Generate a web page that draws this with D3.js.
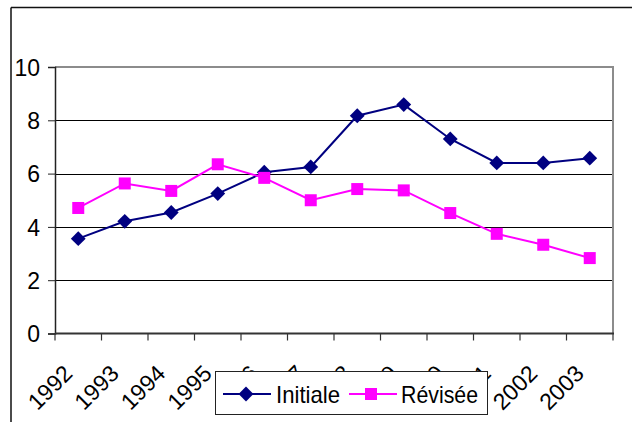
<!DOCTYPE html>
<html>
<head>
<meta charset="utf-8">
<script src="https://cdn.jsdelivr.net/npm/d3@7"></script>
<style>
  html, body { margin: 0; padding: 0; background: #fff; }
  svg { display: block; font-family: "Liberation Sans", Arial, sans-serif; }
</style>
</head>
<body>
<svg id="chart" width="637" height="422"></svg>
<script>
// Years on the category axis
const years = ["1992", "1993", "1994", "1995", "1996", "1997", "1998", "1999", "2000", "2001", "2002", "2003"];
// Initial estimates
const initiale = [3.56, 4.21, 4.54, 5.25, 6.05, 6.25, 8.17, 8.59, 7.30, 6.40, 6.40, 6.58];
// Revised estimates
const revisee = [4.71, 5.63, 5.35, 6.35, 5.84, 5.00, 5.42, 5.37, 4.52, 3.74, 3.33, 2.83];
// Value axis ticks
const yTicks = [0, 2, 4, 6, 8, 10];
const seriesNames = ["Initiale", "Révisée"];

const svg = d3.select("#chart");
const plot = { left: 55, right: 613, top: 67, bottom: 333.5 };
const FONT = "'Liberation Sans', Arial, sans-serif";

// Outer frame (top and left edges)
svg.append("path")
  .attr("d", "M11,7.5H632M11,7.5V422")
  .attr("fill", "none").attr("stroke", "#111").attr("stroke-width", 1.5);

const x = d3.scaleBand().domain(years).range([plot.left, plot.right]).paddingInner(0).paddingOuter(0);
const y = d3.scaleLinear().domain([0, 10]).range([plot.bottom, plot.top]);
const cx = d => x(d) + x.bandwidth() / 2;

// Horizontal gridlines
svg.append("g").selectAll("line").data(yTicks.filter(t => t > 0 && t < 10)).join("line")
  .attr("x1", plot.left).attr("x2", plot.right)
  .attr("y1", d => Math.round(y(d)) + 0.5).attr("y2", d => Math.round(y(d)) + 0.5)
  .attr("stroke", "#000").attr("stroke-width", 1);

// Plot border (top and right, grey)
svg.append("path")
  .attr("d", `M${plot.left},${y(10)}H${plot.right}V${plot.bottom}`)
  .attr("fill", "none").attr("stroke", "#8c8c8c").attr("stroke-width", 2);

// Y axis
const yAxis = d3.axisLeft(y).tickValues(yTicks).tickSize(7).tickPadding(8).tickFormat(d3.format("d"));
const gy = svg.append("g").attr("transform", `translate(${plot.left},0)`).call(yAxis)
  .attr("font-family", FONT).attr("font-size", 23);
gy.select(".domain").attr("stroke", "#222").attr("stroke-width", 1.5);
gy.selectAll(".tick line").attr("stroke", "#222");
gy.selectAll(".tick text").attr("fill", "#000").attr("dy", "0.36em");

// X axis with ticks between categories
const gx = svg.append("g").attr("transform", `translate(0,${plot.bottom})`)
  .attr("font-family", FONT).attr("font-size", 23);
gx.append("line").attr("x1", plot.left).attr("x2", plot.right + 1)
  .attr("stroke", "#333").attr("stroke-width", 2);
const bounds = years.map(d => x(d)).concat([plot.right]);
gx.selectAll("line.tk").data(bounds).join("line").attr("class", "tk")
  .attr("x1", d => d).attr("x2", d => d).attr("y1", 0).attr("y2", 7)
  .attr("stroke", "#333").attr("stroke-width", 1.2);
gx.selectAll("text").data(years).join("text")
  .attr("transform", d => `translate(${cx(d) - 4.5},${375 - plot.bottom}) rotate(-45)`)
  .attr("text-anchor", "end").attr("fill", "#000")
  .text(d => d);

// Lines and markers
const line = d3.line().x((d, i) => cx(years[i])).y(d => y(d));
const navy = "#000080", magenta = "#ff00ff";

svg.append("path").datum(initiale).attr("d", line)
  .attr("fill", "none").attr("stroke", navy).attr("stroke-width", 2);
svg.append("path").datum(revisee).attr("d", line)
  .attr("fill", "none").attr("stroke", magenta).attr("stroke-width", 2);

const diamond = d3.symbol().type(d3.symbolDiamond2).size(140);
svg.append("g").selectAll("path").data(initiale).join("path")
  .attr("transform", (d, i) => `translate(${cx(years[i])},${y(d)})`)
  .attr("d", diamond).attr("fill", navy);

svg.append("g").selectAll("rect").data(revisee).join("rect")
  .attr("x", (d, i) => cx(years[i]) - 6).attr("y", d => y(d) - 6)
  .attr("width", 12).attr("height", 12).attr("fill", magenta);

// Legend
const lg = svg.append("g").attr("font-family", FONT).attr("font-size", 24);
lg.append("rect").attr("x", 215.5).attr("y", 371.5).attr("width", 272).attr("height", 43)
  .attr("fill", "#fff").attr("stroke", "#222").attr("stroke-width", 1);
const ly = 394;
lg.append("line").attr("x1", 223).attr("x2", 271).attr("y1", ly).attr("y2", ly)
  .attr("stroke", navy).attr("stroke-width", 2);
lg.append("path").attr("transform", `translate(246,${ly})`).attr("d", diamond).attr("fill", navy);
lg.append("text").attr("x", 276).attr("y", ly + 8.5)
  .attr("textLength", 64).attr("lengthAdjust", "spacingAndGlyphs").text(seriesNames[0]);
lg.append("line").attr("x1", 349).attr("x2", 397).attr("y1", ly).attr("y2", ly)
  .attr("stroke", magenta).attr("stroke-width", 2);
lg.append("rect").attr("x", 365).attr("y", ly - 6).attr("width", 12).attr("height", 12).attr("fill", magenta);
lg.append("text").attr("x", 401).attr("y", ly + 8.5)
  .attr("textLength", 77).attr("lengthAdjust", "spacingAndGlyphs").text(seriesNames[1]);
</script>
</body>
</html>
